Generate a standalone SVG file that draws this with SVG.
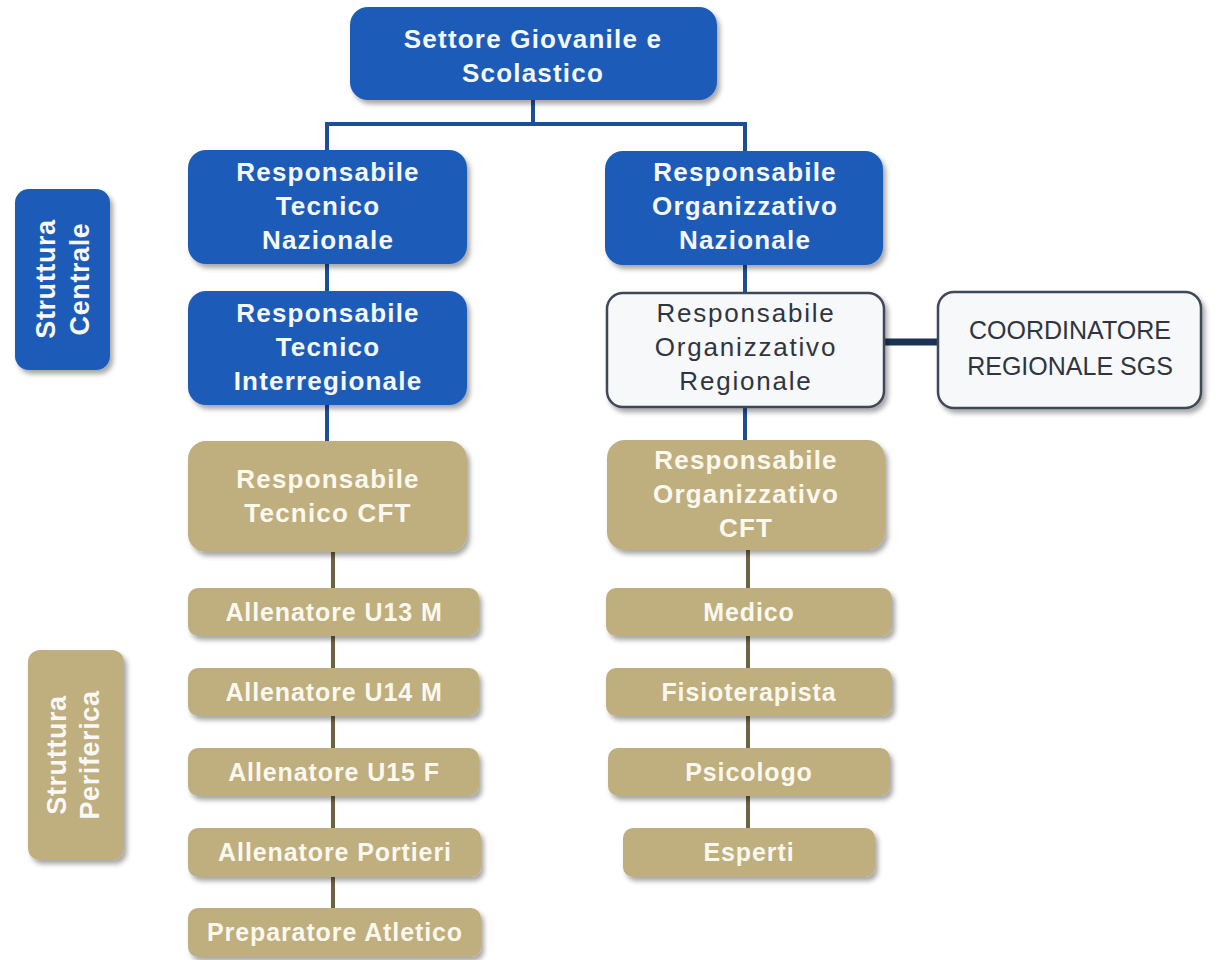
<svg xmlns="http://www.w3.org/2000/svg" width="1218" height="960" viewBox="0 0 1218 960">
  <defs>
    <filter id="sh" x="-10%" y="-20%" width="125%" height="150%">
      <feDropShadow dx="3" dy="4" stdDeviation="2.5" flood-color="#000" flood-opacity="0.35"/>
    </filter>
  </defs>
  <style>
    .blue { fill: #1c5cb8; filter: url(#sh); }
    .tan { fill: #bfae7e; filter: url(#sh); }
    .white { fill: #f7f8fa; stroke: #3e4856; stroke-width: 2.5; filter: url(#sh); }
    text { font-family: "Liberation Sans", Arial, sans-serif; text-anchor: middle; }
    .tb { fill: #f4f7fc; font-weight: bold; font-size: 26px; letter-spacing: 1.2px; }
    .tt { fill: #fbf8ee; font-weight: bold; font-size: 26px; letter-spacing: 1.2px; }
    .ts { fill: #fbf8ee; font-weight: bold; font-size: 25px; letter-spacing: 0.9px; }
    .tw { fill: #2f3540; font-size: 26px; letter-spacing: 1.8px; }
    .tc { fill: #2f3540; font-size: 25px; }
    .side { fill: #f8f8f8; font-weight: bold; font-size: 27px; letter-spacing: 0.6px; }
    .cb { stroke: #1b4f98; stroke-width: 4; fill: none; }
    .ct { stroke: #6f6143; stroke-width: 4; fill: none; }
    .cn { stroke: #1d3354; stroke-width: 7; fill: none; }
  </style>

  <g id="connectors">
    <path class="cb" d="M533 100 V124 M325 124 H747 M327 122 V152 M745 122 V152"/>
    <path class="cb" d="M327 262 V292 M327 404 V442"/>
    <path class="cb" d="M745 264 V294 M745 406 V442"/>
    <path class="cn" d="M885 342 H940"/>
    <path class="ct" d="M333 551 V590 M333 635 V670 M333 715 V750 M333 795 V830 M333 876 V910"/>
    <path class="ct" d="M748 549 V590 M748 635 V670 M748 715 V750 M748 795 V830"/>
  </g>

  <g id="sgs">
    <rect class="blue" x="350" y="7" width="367" height="93" rx="18"/>
    <text class="tb" x="533" y="48">Settore Giovanile e</text>
    <text class="tb" x="533" y="82">Scolastico</text>
  </g>

  <g id="struttura-centrale">
    <rect class="blue" x="15" y="189" width="95" height="181" rx="14"/>
    <text class="side" transform="translate(55 279) rotate(-90)">Struttura</text>
    <text class="side" transform="translate(89 279) rotate(-90)">Centrale</text>
  </g>

  <g id="struttura-periferica">
    <rect class="tan" x="28" y="650" width="96" height="210" rx="12"/>
    <text class="side" transform="translate(66 755) rotate(-90)">Struttura</text>
    <text class="side" transform="translate(99 755) rotate(-90)">Periferica</text>
  </g>

  <g id="rtn">
    <rect class="blue" x="188" y="150" width="279" height="114" rx="18"/>
    <text class="tb" x="328" y="181">Responsabile</text>
    <text class="tb" x="328" y="215">Tecnico</text>
    <text class="tb" x="328" y="249">Nazionale</text>
  </g>

  <g id="rti">
    <rect class="blue" x="188" y="291" width="279" height="114" rx="18"/>
    <text class="tb" x="328" y="322">Responsabile</text>
    <text class="tb" x="328" y="356">Tecnico</text>
    <text class="tb" x="328" y="390">Interregionale</text>
  </g>

  <g id="ron">
    <rect class="blue" x="605" y="151" width="278" height="114" rx="18"/>
    <text class="tb" x="745" y="181">Responsabile</text>
    <text class="tb" x="745" y="215">Organizzativo</text>
    <text class="tb" x="745" y="249">Nazionale</text>
  </g>

  <g id="ror">
    <rect class="white" x="607" y="293" width="277" height="114" rx="16"/>
    <text class="tw" x="746" y="322">Responsabile</text>
    <text class="tw" x="746" y="356">Organizzativo</text>
    <text class="tw" x="746" y="390">Regionale</text>
  </g>

  <g id="coordinatore">
    <rect class="white" x="938" y="292" width="263" height="116" rx="16"/>
    <text class="tc" x="1070" y="339">COORDINATORE</text>
    <text class="tc" x="1070" y="375">REGIONALE SGS</text>
  </g>

  <g id="rtcft">
    <rect class="tan" x="188" y="441" width="279" height="111" rx="18"/>
    <text class="tt" x="328" y="488">Responsabile</text>
    <text class="tt" x="328" y="522">Tecnico CFT</text>
  </g>

  <g id="rocft">
    <rect class="tan" x="607" y="440" width="278" height="110" rx="18"/>
    <text class="tt" x="746" y="469">Responsabile</text>
    <text class="tt" x="746" y="503">Organizzativo</text>
    <text class="tt" x="746" y="537">CFT</text>
  </g>

  <g id="u13">
    <rect class="tan" x="188" y="588" width="291" height="48" rx="10"/>
    <text class="ts" x="334" y="621">Allenatore U13 M</text>
  </g>
  <g id="u14">
    <rect class="tan" x="188" y="668" width="291" height="48" rx="10"/>
    <text class="ts" x="334" y="701">Allenatore U14 M</text>
  </g>
  <g id="u15">
    <rect class="tan" x="188" y="748" width="291" height="48" rx="10"/>
    <text class="ts" x="334" y="781">Allenatore U15 F</text>
  </g>
  <g id="portieri">
    <rect class="tan" x="188" y="828" width="293" height="49" rx="10"/>
    <text class="ts" x="335" y="861">Allenatore Portieri</text>
  </g>
  <g id="preparatore">
    <rect class="tan" x="188" y="908" width="293" height="49" rx="10"/>
    <text class="ts" x="335" y="941">Preparatore Atletico</text>
  </g>

  <g id="medico">
    <rect class="tan" x="606" y="588" width="286" height="48" rx="10"/>
    <text class="ts" x="749" y="621">Medico</text>
  </g>
  <g id="fisioterapista">
    <rect class="tan" x="606" y="668" width="286" height="48" rx="10"/>
    <text class="ts" x="749" y="701">Fisioterapista</text>
  </g>
  <g id="psicologo">
    <rect class="tan" x="608" y="748" width="282" height="48" rx="10"/>
    <text class="ts" x="749" y="781">Psicologo</text>
  </g>
  <g id="esperti">
    <rect class="tan" x="623" y="828" width="252" height="49" rx="10"/>
    <text class="ts" x="749" y="861">Esperti</text>
  </g>
</svg>
